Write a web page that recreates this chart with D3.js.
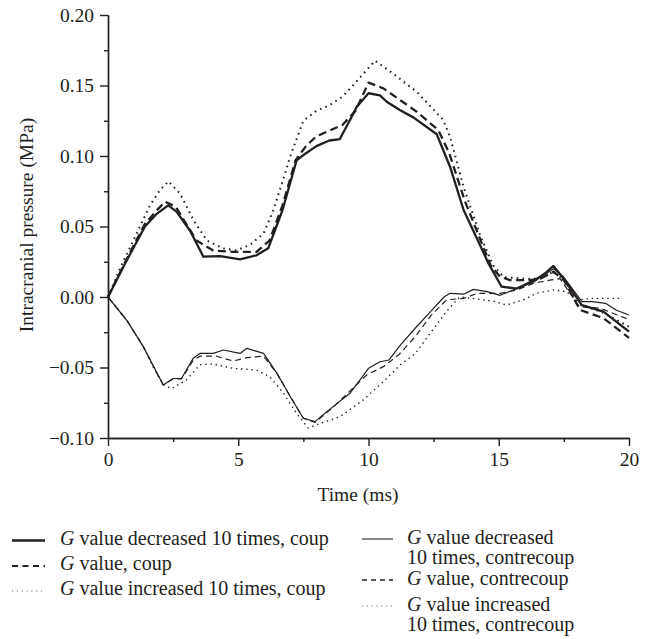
<!DOCTYPE html>
<html><head><meta charset="utf-8">
<script src="https://cdn.jsdelivr.net/npm/d3@7"></script>
<style>html,body{margin:0;padding:0;background:#fff;} svg{display:block;}</style>
</head><body>
<svg id="chart" width="650" height="639"></svg>
<script>
// ---- data ----
const xTicks = [0, 5, 10, 15, 20];
const xMinorTicks = [2.5, 7.5, 12.5, 17.5];
const yTicks = [-0.10, -0.05, 0.00, 0.05, 0.10, 0.15, 0.20];
const yMinorTicks = [-0.075, -0.025, 0.025, 0.075, 0.125, 0.175];

const coupDecT = [0, 0.72, 1.42, 1.87, 2.31, 2.63, 3.15, 3.66, 4.3, 5.07, 5.7, 6.15, 6.7, 7.24, 7.6, 8.0, 8.5, 8.9, 9.29, 9.55, 10.0, 10.44, 10.7, 11.2, 11.72, 12.62, 13.13, 13.65, 14.16, 14.6, 15.11, 15.69, 16.33, 16.78, 17.1, 17.48, 18.19, 19.02, 20.0];
const coupDecV = [0, 0.026, 0.050, 0.059, 0.065, 0.0605, 0.047, 0.0286, 0.029, 0.0267, 0.0296, 0.0345, 0.0617, 0.097, 0.102, 0.107, 0.111, 0.112, 0.1255, 0.135, 0.1445, 0.143, 0.1385, 0.1326, 0.1274, 0.1154, 0.0924, 0.0617, 0.0416, 0.024, 0.0073, 0.006, 0.011, 0.0168, 0.022, 0.0133, -0.0057, -0.0104, -0.0246];

const coupBaseT = [0, 0.72, 1.42, 1.9, 2.19, 2.6, 3.4, 4.04, 4.8, 5.7, 6.2, 6.7, 7.2, 7.6, 8.0, 8.5, 9.0, 9.5, 10.0, 10.57, 11.85, 12.68, 13.1, 13.7, 14.2, 14.7, 15.05, 15.43, 16.2, 16.6, 17.1, 17.5, 18.12, 19.02, 20.0];
const coupBaseV = [0, 0.027, 0.052, 0.062, 0.0676, 0.064, 0.040, 0.033, 0.032, 0.032, 0.040, 0.065, 0.097, 0.107, 0.114, 0.118, 0.122, 0.132, 0.152, 0.148, 0.1314, 0.1184, 0.102, 0.068, 0.045, 0.022, 0.0144, 0.012, 0.012, 0.013, 0.018, 0.012, -0.0092, -0.015, -0.029];

const coupIncT = [0, 0.49, 0.97, 1.61, 2.0, 2.32, 2.76, 3.28, 3.8, 4.42, 4.93, 5.45, 5.97, 6.35, 6.8, 7.0, 7.5, 8.0, 8.5, 9.0, 9.5, 10.25, 10.83, 11.85, 12.87, 13.13, 13.65, 14.3, 14.8, 15.2, 16.0, 16.6, 17.1, 17.5, 18.1, 19.0, 20.0];
const coupIncV = [0, 0.0215, 0.040, 0.065, 0.076, 0.082, 0.0735, 0.0546, 0.040, 0.0345, 0.033, 0.037, 0.045, 0.0617, 0.0877, 0.100, 0.125, 0.132, 0.136, 0.142, 0.152, 0.1676, 0.160, 0.1456, 0.1255, 0.1137, 0.078, 0.043, 0.022, 0.014, 0.013, 0.013, 0.018, 0.012, -0.005, -0.011, -0.021];

const contraDecT = [0, 0.72, 1.35, 1.74, 2.12, 2.5, 2.82, 3.27, 3.53, 4.04, 4.43, 5.07, 5.33, 5.97, 6.48, 7.0, 7.5, 7.95, 8.4, 9.29, 10.0, 10.44, 10.78, 11.23, 11.8, 12.4, 12.9, 13.13, 13.65, 14.03, 14.55, 15.05, 15.56, 16.07, 16.84, 17.1, 17.48, 18.19, 18.6, 19.1, 19.5, 20.0];
const contraDecV = [0, -0.0165, -0.035, -0.049, -0.0624, -0.0578, -0.0578, -0.0435, -0.040, -0.040, -0.0376, -0.040, -0.0364, -0.040, -0.054, -0.0707, -0.086, -0.0884, -0.0813, -0.0683, -0.0506, -0.0459, -0.0447, -0.034, -0.022, -0.010, 0.0, 0.0026, 0.002, 0.0054, 0.0038, 0.0012, 0.005, 0.0097, 0.0168, 0.020, 0.0145, -0.0033, -0.0033, -0.0045, -0.0092, -0.0128];

const contraBaseT = [0, 0.72, 1.35, 1.74, 2.12, 2.5, 2.82, 3.27, 3.53, 4.17, 4.8, 5.33, 5.97, 6.48, 7.0, 7.5, 7.95, 8.65, 9.93, 10.57, 11.16, 11.8, 12.4, 13.0, 13.65, 14.18, 15.05, 15.69, 16.33, 16.96, 17.35, 18.1, 18.9, 20.0];
const contraBaseV = [0, -0.0165, -0.035, -0.049, -0.0624, -0.058, -0.058, -0.045, -0.042, -0.042, -0.0454, -0.043, -0.042, -0.054, -0.0707, -0.086, -0.089, -0.078, -0.0553, -0.0494, -0.041, -0.028, -0.013, -0.002, -0.001, 0.0026, 0.0026, 0.005, 0.0097, 0.012, 0.013, -0.0069, -0.008, -0.016];

const contraIncT = [0, 0.72, 1.35, 1.74, 2.12, 2.44, 3.0, 3.53, 4.04, 4.8, 5.7, 6.2, 6.73, 7.24, 7.69, 8.13, 8.9, 9.8, 10.57, 11.23, 11.8, 12.4, 13.0, 13.5, 14.0, 14.8, 15.3, 15.94, 16.45, 17.1, 17.6, 18.1, 18.5, 19.7];
const contraIncV = [0, -0.0165, -0.035, -0.050, -0.062, -0.065, -0.059, -0.048, -0.0475, -0.0506, -0.0518, -0.0565, -0.068, -0.0826, -0.093, -0.0897, -0.085, -0.073, -0.060, -0.048, -0.040, -0.025, -0.010, 0.0, -0.001, -0.003, -0.0057, -0.002, 0.0026, 0.005, 0.0038, -0.002, -0.001, -0.001];

const seriesNames = [
  "G value decreased 10 times, coup",
  "G value, coup",
  "G value increased 10 times, coup",
  "G value decreased 10 times, contrecoup",
  "G value, contrecoup",
  "G value increased 10 times, contrecoup"
];

// ---- drawing ----
const svg = d3.select("#chart");
const FONT = "'Liberation Serif', 'Times New Roman', serif";
const ink = "#231f20";

const x = d3.scaleLinear().domain([0, 20]).range([108, 629]);
const y = d3.scaleLinear().domain([-0.10, 0.20]).range([438, 15]);

const styles = [
  {t: coupDecT, v: coupDecV, w: 2.3, dash: null},
  {t: coupBaseT, v: coupBaseV, w: 2.3, dash: "8,4.5"},
  {t: coupIncT, v: coupIncV, w: 2.0, dash: "1.6,4.2"},
  {t: contraDecT, v: contraDecV, w: 1.2, dash: null},
  {t: contraBaseT, v: contraBaseV, w: 1.2, dash: "6,4"},
  {t: contraIncT, v: contraIncV, w: 1.4, dash: "1.4,3.8"}
];

// axes
const fmt = d3.format(".2f");
const yAxis = d3.axisLeft(y).tickValues(yTicks).tickSize(8).tickSizeOuter(0)
  .tickFormat(d => fmt(d).replace("-", "\u2212"));
const yMinor = d3.axisLeft(y).tickValues(yMinorTicks).tickSize(4).tickSizeOuter(0).tickFormat("");
const xAxis = d3.axisBottom(x).tickValues(xTicks).tickSize(8).tickSizeOuter(0).tickFormat(d3.format("d"));
const xMinor = d3.axisBottom(x).tickValues(xMinorTicks).tickSize(4).tickSizeOuter(0).tickFormat("");

function styleAxis(g){
  g.selectAll("path.domain").attr("stroke", ink).attr("stroke-width", 1.4);
  g.selectAll(".tick line").attr("stroke", ink).attr("stroke-width", 1.4);
  g.selectAll(".tick text").attr("fill", ink).style("font-family", FONT).style("font-size", "19.5px");
}
const gy = svg.append("g").attr("transform", `translate(${x(0)},0)`).call(yAxis).call(styleAxis);
gy.selectAll(".tick text").attr("x", -14);
svg.append("g").attr("transform", `translate(${x(0)},0)`).call(yMinor).call(styleAxis);
const gx = svg.append("g").attr("transform", `translate(0,${y(-0.10)})`).call(xAxis).call(styleAxis);
gx.selectAll(".tick text").attr("y", 14);
svg.append("g").attr("transform", `translate(0,${y(-0.10)})`).call(xMinor).call(styleAxis);

// lines
const line = d3.line().x(d => x(d[0])).y(d => y(d[1]));
styles.forEach(s => {
  const pts = s.t.map((t, i) => [t, s.v[i]]);
  svg.append("path").datum(pts)
    .attr("d", line)
    .attr("fill", "none")
    .attr("stroke", ink)
    .attr("stroke-width", s.w)
    .attr("stroke-linejoin", "round")
    .attr("stroke-dasharray", s.dash);
});

// axis titles
svg.append("text").attr("x", 358).attr("y", 501).attr("text-anchor", "middle")
  .attr("fill", ink).style("font-family", FONT).style("font-size", "19.5px").text("Time (ms)");
svg.append("text").attr("transform", "translate(33,225) rotate(-90)").attr("text-anchor", "middle")
  .attr("fill", ink).style("font-family", FONT).style("font-size", "19.5px").text("Intracranial pressure (MPa)");

// legend
const legendItems = [
  {s: 0, x1: 12, x2: 45, ly: 540.5, tx: 60, lines: [545]},
  {s: 1, x1: 12, x2: 45, ly: 566, tx: 60, lines: [570]},
  {s: 2, x1: 12, x2: 45, ly: 591, tx: 60, lines: [595]},
  {s: 3, x1: 362, x2: 393, ly: 539, tx: 407, lines: [544, 564]},
  {s: 4, x1: 362, x2: 393, ly: 580, tx: 407, lines: [585]},
  {s: 5, x1: 362, x2: 393, ly: 606, tx: 407, lines: [611, 631]}
];
const legendW = [2.3, 2.2, 1.2, 1.4, 1.4, 1.2];
const legendDash = [null, "6,4.5", "1.2,3.6", null, "5,4", "1.2,3.6"];
const legendCol = [ink, ink, "#777", "#555", ink, "#777"];
legendItems.forEach(it => {
  svg.append("line").attr("x1", it.x1).attr("x2", it.x2).attr("y1", it.ly).attr("y2", it.ly)
    .attr("stroke", legendCol[it.s]).attr("stroke-width", legendW[it.s])
    .attr("stroke-dasharray", legendDash[it.s]);
  const name = seriesNames[it.s];
  const rest = name.slice(1);
  let parts;
  if (it.lines.length === 2) {
    const idx = rest.indexOf(" 10 times");
    parts = [rest.slice(0, idx), rest.slice(idx + 1)];
  } else parts = [rest];
  const t1 = svg.append("text").attr("x", it.tx).attr("y", it.lines[0]).attr("fill", ink)
    .style("font-family", FONT).style("font-size", "20px");
  t1.append("tspan").style("font-style", "italic").text(name[0]);
  t1.append("tspan").text(parts[0]);
  if (parts.length > 1) {
    svg.append("text").attr("x", it.tx).attr("y", it.lines[1]).attr("fill", ink)
      .style("font-family", FONT).style("font-size", "20px").text(parts[1]);
  }
});
</script>
</body></html>
